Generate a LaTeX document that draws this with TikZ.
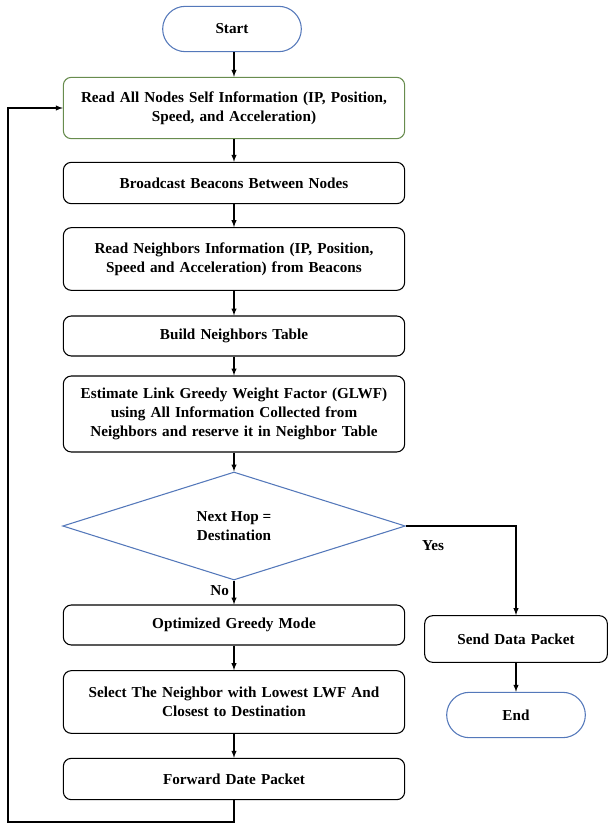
\documentclass[tikz,border=0pt]{standalone}
\usepackage{fontspec}
\setmainfont{Liberation Serif}
\usepackage{xcolor}
\usetikzlibrary{arrows}
\usetikzlibrary{shapes.geometric}
\definecolor{myblue}{RGB}{84,120,186}
\definecolor{mygreen}{RGB}{104,140,78}

\begin{document}
\begin{tikzpicture}[x=0.75pt,y=-0.75pt,
    font=\bfseries\fontsize{11.4}{14.5}\selectfont,
    box/.style={draw, line width=0.8pt, rounded corners=6pt, align=center,
      minimum width=256pt, text width=250pt, inner sep=0pt},
    term/.style={draw=myblue, line width=0.8pt, rounded corners=17pt,
      minimum width=104pt, minimum height=34pt},
    decide/.style={draw=myblue, line width=0.8pt, diamond, align=center,
      minimum width=257pt, minimum height=81pt, inner sep=0pt},
    flow/.style={-latex, line width=0.8pt}]
  \useasboundingbox (0,0) rectangle (608,827);

  \node[term] (start) at (232,29) {Start};
  \node[box, draw=mygreen, minimum height=46pt] (self) at (234,108)
    {Read All Nodes Self Information (IP, Position,\\ Speed, and Acceleration)};
  \node[box, minimum height=31pt] (bcast) at (234,183) {Broadcast Beacons Between Nodes};
  \node[box, minimum height=47pt] (nbinfo) at (234,259)
    {Read Neighbors Information (IP, Position,\\ Speed and Acceleration) from Beacons};
  \node[box, minimum height=30pt] (table) at (234,336) {Build Neighbors Table};
  \node[box, minimum height=57pt] (glwf) at (234,414)
    {Estimate Link Greedy Weight Factor (GLWF)\\ using All Information Collected from\\ Neighbors and reserve it in Neighbor Table};
  \node[decide] (hop) at (234,526) {Next Hop =\\ Destination};
  \node[box, minimum height=30pt] (greedy) at (234,625) {Optimized Greedy Mode};
  \node[box, minimum height=47pt] (select) at (234,702)
    {Select The Neighbor with Lowest LWF And\\ Closest to Destination};
  \node[box, minimum height=31pt] (fwd) at (234,779) {Forward Date Packet};
  \node[box, minimum width=137pt, text width=130pt, minimum height=35pt] (send) at (516,639) {Send Data Packet};
  \node[term] (stop) at (516,715) {End};

  \coordinate (c1) at (234,822);
  \coordinate (c2) at (8,822);
  \coordinate (c3) at (8,108);
  \coordinate (c4) at (516,526);

  \draw[flow] (start.south -| self.north) -- (self.north);
  \draw[flow] (self) -- (bcast);
  \draw[flow] (bcast) -- (nbinfo);
  \draw[flow] (nbinfo) -- (table);
  \draw[flow] (table) -- (glwf);
  \draw[flow] (glwf) -- (hop);
  \draw[flow] (hop) -- node[left, pos=0.4] (no) {No} (greedy);
  \draw[flow] (greedy) -- (select);
  \draw[flow] (select) -- (fwd);
  \draw[flow] (fwd.south) -- (c1) -- (c2) -- (c3) -- (self.west);
  \draw[flow] (hop.east) -- (c4) -- (send.north);
  \node (yes) at (433,546) {Yes};
  \draw[flow] (send) -- (stop);
\end{tikzpicture}
\end{document}
